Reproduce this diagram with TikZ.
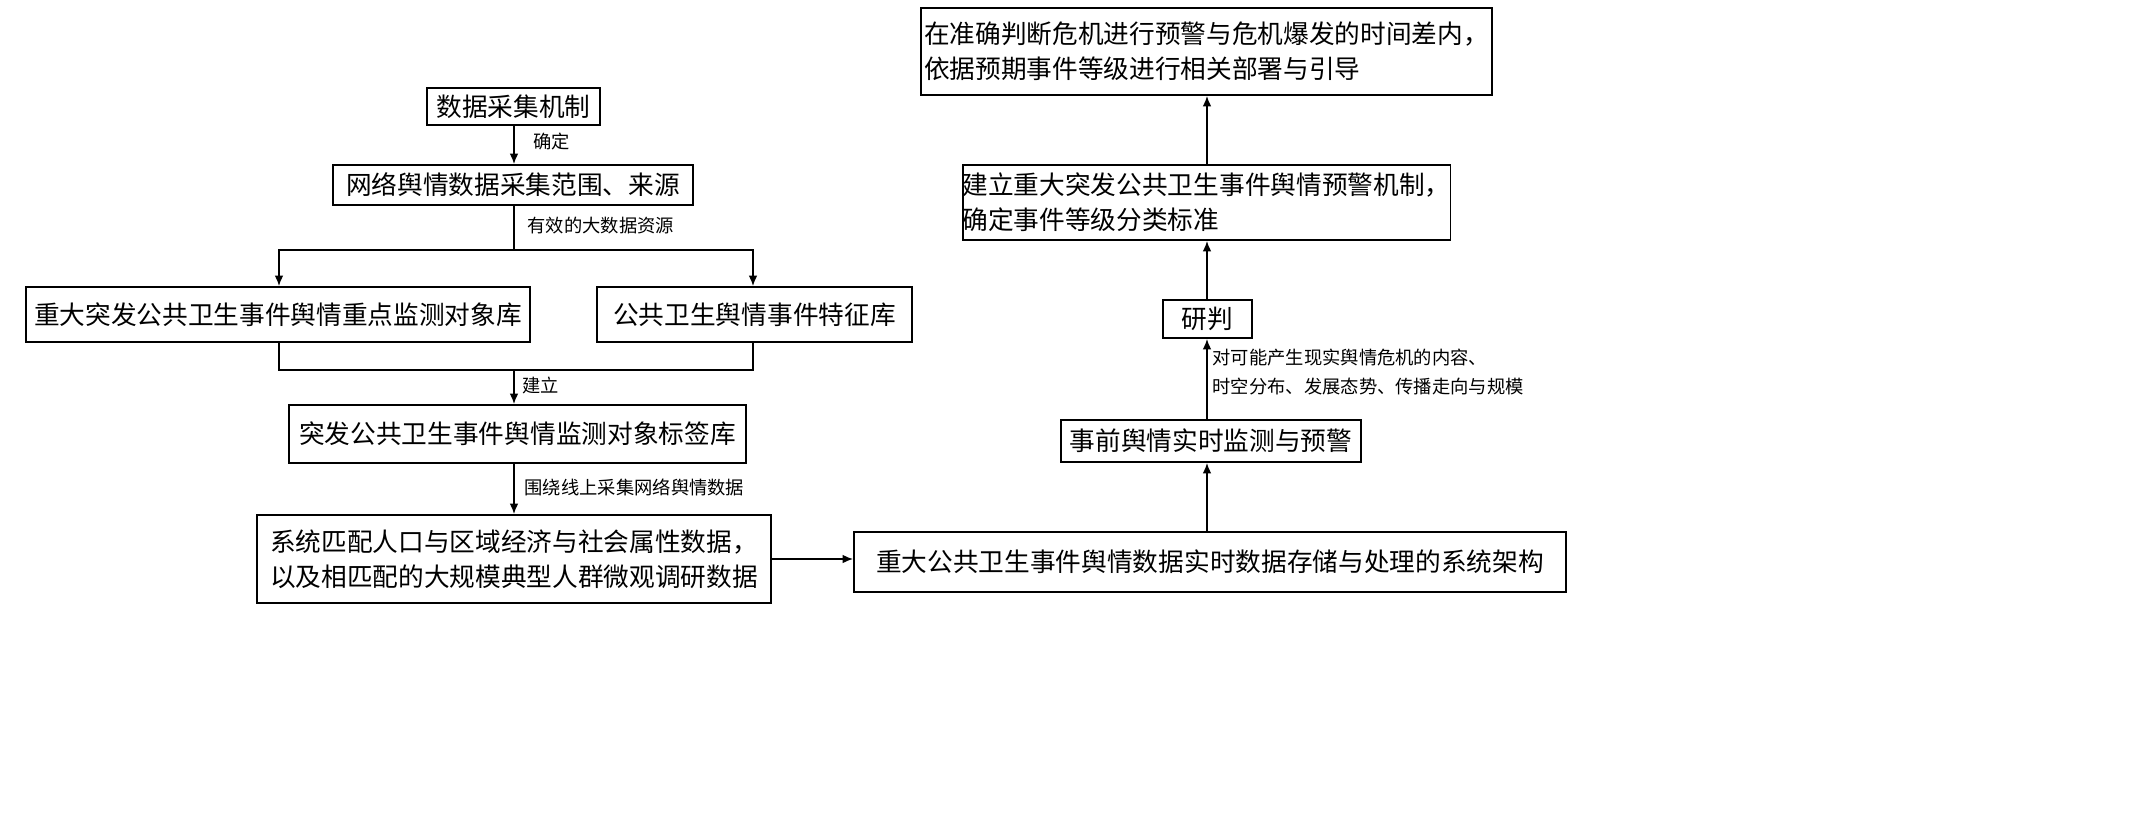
\documentclass[tikz,border=0pt]{standalone}
\usepackage{fontspec}
\setmainfont{Noto Sans CJK SC}
\usetikzlibrary{arrows.meta}
\begin{document}
\begin{tikzpicture}[x=0.01cm,y=-0.01cm,
 box/.style={draw,line width=0.5pt,inner sep=0pt,font=\fontsize{7.3}{10}\selectfont,align=left},
 lab/.style={font=\fontsize{5.2}{8}\selectfont,anchor=west,inner sep=0pt,align=left},
 arr/.style={-{Latex[length=3pt,width=2.5pt]},line width=0.5pt},
 ln/.style={line width=0.5pt}]
\useasboundingbox (0,0) rectangle (2135,839);
\def\bx#1#2#3#4#5#6{\node[box,minimum width=#4*0.01cm-#2*0.01cm,minimum height=#5*0.01cm-#3*0.01cm] (#1) at ({(#2+#4)/2},{(#3+#5)/2}) {#6};}
\bx{a}{427}{88}{600}{125}{数据采集机制}
\bx{b}{333}{165}{693}{205}{网络舆情数据采集范围、来源}
\bx{c}{26}{287}{530}{342}{重大突发公共卫生事件舆情重点监测对象库}
\bx{d}{597}{287}{912}{342}{公共卫生舆情事件特征库}
\bx{e}{289}{405}{746}{463}{突发公共卫生事件舆情监测对象标签库}
\bx{f}{257}{515}{771}{603}{系统匹配人口与区域经济与社会属性数据，\\以及相匹配的大规模典型人群微观调研数据}
\bx{g}{854}{532}{1566}{592}{重大公共卫生事件舆情数据实时数据存储与处理的系统架构}
\bx{h}{1061}{420}{1361}{462}{事前舆情实时监测与预警}
\bx{i}{1163}{300}{1252}{338}{研判}
\bx{j}{963}{165}{1450}{240}{建立重大突发公共卫生事件舆情预警机制，\\确定事件等级分类标准}
\bx{k}{921}{8}{1492}{95}{在准确判断危机进行预警与危机爆发的时间差内，\\依据预期事件等级进行相关部署与引导}
\coordinate (s1) at (514,250); \coordinate (m1) at (514,370);
\draw[arr] (a.south -| 514,0) -- (b.north -| 514,0);
\node[lab] (l1) at (533,142) {确定};
\draw[ln] (b.south -| 514,0) -- (s1);
\node[lab] (l2) at (527,226) {有效的大数据资源};
\draw[arr] (s1) -| (c.north -| 279,0);
\draw[arr] (s1) -| (d.north -| 753,0);
\draw[ln] (c.south -| 279,0) |- (m1);
\draw[ln] (d.south -| 753,0) |- (m1);
\draw[arr] (m1) -- (e.north -| 514,0);
\node[lab] (l3) at (522,385) {建立};
\draw[arr] (e.south -| 514,0) -- (f.north -| 514,0);
\node[lab] (l4) at (524,487) {围绕线上采集网络舆情数据};
\draw[arr] (f.east |- 0,559) -- (g.west |- 0,559);
\draw[arr] (g.north -| 1207,0) -- (h.south -| 1207,0);
\draw[arr] (h.north -| 1207,0) -- (i.south -| 1207,0);
\node[lab] (l5) at (1212,372) {对可能产生现实舆情危机的内容、\\时空分布、发展态势、传播走向与规模};
\draw[arr] (i.north -| 1207,0) -- (j.south -| 1207,0);
\draw[arr] (j.north -| 1207,0) -- (k.south -| 1207,0);
\end{tikzpicture}
\end{document}
